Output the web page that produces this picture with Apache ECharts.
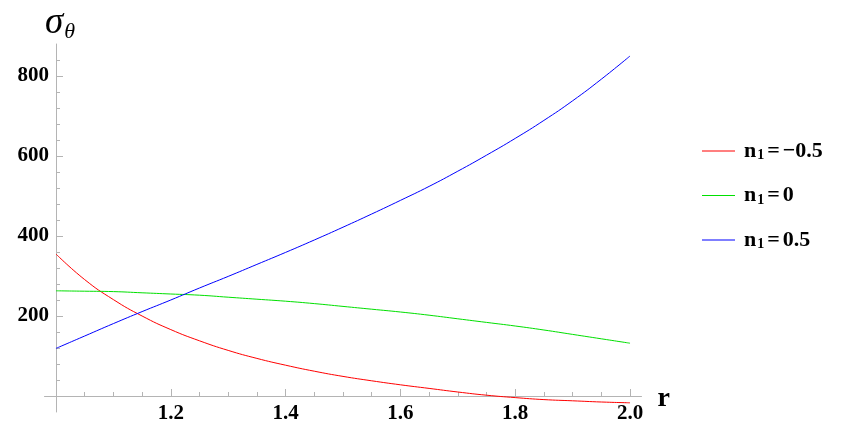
<!DOCTYPE html>
<html>
<head>
<meta charset="utf-8">
<script src="https://cdn.jsdelivr.net/npm/echarts@6.0.0/dist/echarts.min.js"></script>
<style>
html,body{margin:0;padding:0;background:#fff;}
#chart{width:842px;height:440px;}
</style>
</head>
<body>
<div id="chart"></div>
<script>
// ---- data ----
const rValues = [1.00,1.05,1.10,1.15,1.20,1.25,1.30,1.35,1.40,1.45,1.50,1.55,1.60,1.65,1.70,1.75,1.80,1.85,1.90,1.95,2.00];
const sigmaNeg = [355,291,241,200,166,138,114,94,77,62,49,38,28,19,10,2,-4,-9,-12,-15,-17];
const sigmaZero = [263,262,261,258,255,252,247,242,237,231,224,217,210,202,193,184,175,165,154,143,132];
const sigmaPos = [119,150,181,211,240,270,299,329,359,390,422,455,489,524,562,602,644,689,738,792,850];
const n1Values = ['−0.5','0','0.5'];
const seriesNames = ['n1=-0.5','n1=0','n1=0.5'];
const seriesColors = ['#ff0000','#00e000','#0000ff'];
const xTickLabels = [1.2,1.4,1.6,1.8,2.0];
const xMinorTicks = [1.05,1.10,1.15,1.25,1.30,1.35,1.45,1.50,1.55,1.65,1.70,1.75,1.85,1.90,1.95];
const yTickLabels = [200,400,600,800];
const yMinorTicks = [40,80,120,160,240,280,320,360,440,480,520,560,640,680,720,760,840];

const allSeries = [sigmaNeg, sigmaZero, sigmaPos];
const axisColor = '#b4b4b4';
const serif = '"Liberation Serif","Times New Roman",serif';

const chart = echarts.init(document.getElementById('chart'), null, {renderer:'canvas'});

const legendRich = {
  n:{fontFamily:serif,fontWeight:'bold',fontSize:22,color:'#000'},
  s:{fontFamily:serif,fontWeight:'bold',fontSize:14,color:'#000',padding:[9,2,0,1]},
  e:{fontFamily:serif,fontWeight:'bold',fontSize:22,color:'#000',padding:[0,3,0,1]}
};

const option = {
  animation:false,
  backgroundColor:'#fff',
  grid:{left:44.5,width:597,top:44,height:368,containLabel:false},
  legend:{
    orient:'vertical',left:697,top:135,
    itemWidth:33,itemHeight:1,itemGap:22,
    icon:'rect',
    data:seriesNames,
    formatter:function(name){
      const i = seriesNames.indexOf(name);
      return '{n|n}{s|1}{e|=}{n|' + n1Values[i] + '}';
    },
    textStyle:{rich:legendRich,padding:[0,0,0,4]}
  },
  xAxis:[{
    type:'value',min:0.98,max:2.02,
    axisLine:{onZero:true,lineStyle:{color:axisColor,width:1}},
    axisTick:{show:true,inside:true,length:7,customValues:xTickLabels,lineStyle:{color:axisColor}},
    axisLabel:{customValues:xTickLabels,margin:-9,formatter:v=>Number(v).toFixed(1),
      fontFamily:serif,fontWeight:'bold',fontSize:21,color:'#000'},
    splitLine:{show:false},
    name:'r',nameLocation:'end',nameGap:16,
    nameTextStyle:{fontFamily:serif,fontWeight:'bold',fontSize:28,color:'#000',verticalAlign:'top',lineHeight:6}
  },{
    type:'value',min:0.98,max:2.02,position:'bottom',
    axisLine:{show:false,onZero:true},
    axisTick:{show:true,inside:true,length:4,customValues:xMinorTicks,lineStyle:{color:axisColor}},
    axisLabel:{show:false},splitLine:{show:false}
  }],
  yAxis:[{
    type:'value',min:-40,max:880,position:'left',offset:-11.5,
    axisLine:{show:true,onZero:false,lineStyle:{color:axisColor,width:1}},
    axisTick:{show:true,inside:true,length:7,customValues:yTickLabels,lineStyle:{color:axisColor}},
    axisLabel:{customValues:yTickLabels,margin:7,fontFamily:serif,fontWeight:'bold',fontSize:21,color:'#000'},
    splitLine:{show:false},
    name:'{a|σ}{b|θ}',nameLocation:'end',nameGap:1,
    nameTextStyle:{align:'center',verticalAlign:'bottom',padding:[0,0,0,8],
      rich:{
        a:{fontFamily:serif,fontStyle:'italic',fontSize:37,lineHeight:40,color:'#000'},
        b:{fontFamily:serif,fontStyle:'italic',fontSize:22,lineHeight:8,verticalAlign:'bottom',color:'#000',padding:[0,0,0,1]}
      }}
  },{
    type:'value',min:-40,max:880,position:'left',offset:-11.5,
    axisLine:{show:false,onZero:false},
    axisTick:{show:true,inside:true,length:4,customValues:yMinorTicks,lineStyle:{color:axisColor}},
    axisLabel:{show:false},splitLine:{show:false}
  }],
  series: seriesNames.map((name,k)=>({
    name:name,type:'line',xAxisIndex:0,yAxisIndex:0,
    showSymbol:false,symbol:'none',smooth:0.5,
    lineStyle:{color:seriesColors[k],width:1},
    itemStyle:{color:seriesColors[k]},
    data: rValues.map((r,i)=>[r, allSeries[k][i]])
  }))
};
chart.setOption(option);
</script>
</body>
</html>
